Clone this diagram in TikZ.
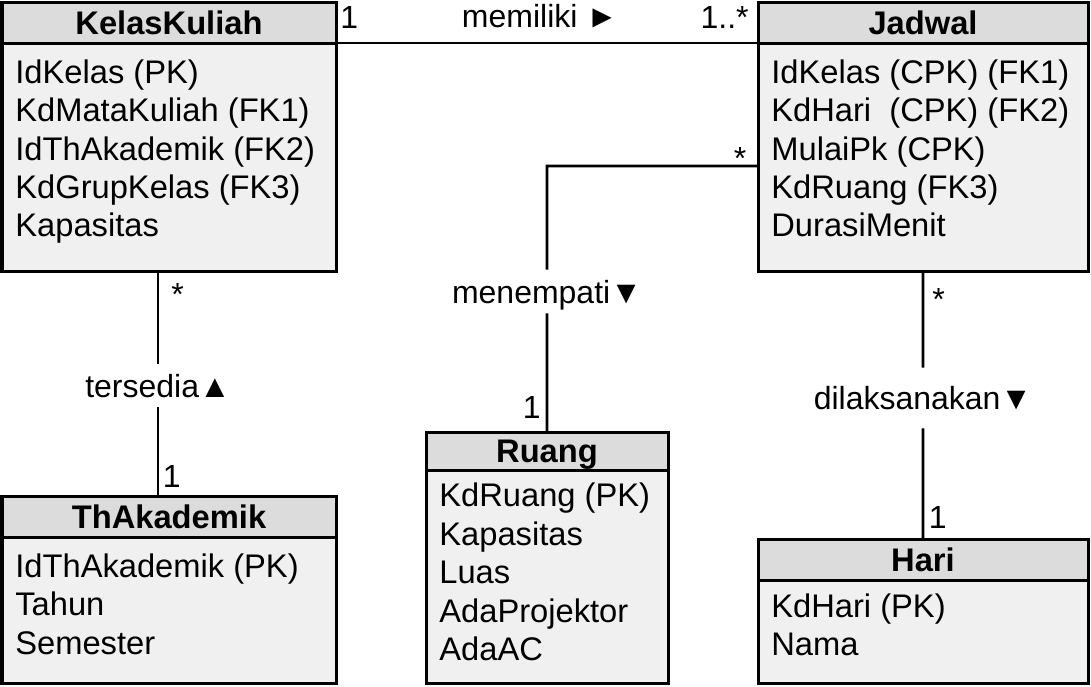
\documentclass[tikz,border=0pt]{standalone}
\usepackage{fontspec}
\setmainfont{Liberation Sans}
\usetikzlibrary{positioning}
\definecolor{headgray}{RGB}{220,220,220}
\definecolor{bodygray}{RGB}{240,240,240}
\tikzset{
  tbl/.style={draw, line width=0.6mm, fill=bodygray, inner sep=0pt, outer sep=0pt, anchor=north west},
  tblhead/.style={draw, line width=0.6mm, fill=headgray, inner sep=0pt, outer sep=0pt, anchor=north west,
    minimum height=8.2mm, text height=13.3pt, text depth=0pt, font=\bfseries\fontsize{18.6}{22}\selectfont},
  attr/.style={align=left, inner sep=0pt, font=\fontsize{18.6}{21.9}\selectfont},
  rel/.style={inner xsep=2pt, inner ysep=2mm, text height=4.6mm, text depth=0pt, font=\fontsize{18.2}{21}\selectfont},
  mult/.style={inner sep=0pt, font=\fontsize{18.2}{21}\selectfont},
  conn/.style={line width=0.55mm}
}
\begin{document}
\begin{tikzpicture}[x=0.2mm,y=-0.2mm]
\useasboundingbox (0,0) rectangle (1091,686);
% KelasKuliah
\node[tbl, minimum width=66.8mm, minimum height=53.8mm] (kk) at (2,2) {};
\node[tblhead, minimum width=66.8mm] (kkh) at (kk.north west) {KelasKuliah};
\node[attr, below right=3.2mm and 2.6mm of kkh.south west] (kka)
  {IdKelas (PK)\\KdMataKuliah (FK1)\\IdThAkademik (FK2)\\KdGrupKelas (FK3)\\Kapasitas};
% Jadwal
\node[tbl, minimum width=66mm, minimum height=53.8mm] (jd) at (758,2) {};
\node[tblhead, minimum width=66mm] (jdh) at (jd.north west) {Jadwal};
\node[attr, below right=3.2mm and 2.6mm of jdh.south west] (jda)
  {IdKelas (CPK) (FK1)\\KdHari\ \ (CPK) (FK2)\\MulaiPk (CPK)\\KdRuang (FK3)\\DurasiMenit};
% ThAkademik
\node[tbl, minimum width=66.8mm, minimum height=37.4mm] (th) at (2,496) {};
\node[tblhead, minimum width=66.8mm] (thh) at (th.north west) {ThAkademik};
\node[attr, below right=3.2mm and 2.6mm of thh.south west] (tha)
  {IdThAkademik (PK)\\Tahun\\Semester};
% Ruang
\node[tbl, minimum width=48.4mm, minimum height=50.2mm] (rg) at (426,432) {};
\node[tblhead, minimum width=48.4mm, minimum height=7.6mm] (rgh) at (rg.north west) {Ruang};
\node[attr, below right=2.5mm and 2.6mm of rgh.south west] (rga)
  {KdRuang (PK)\\Kapasitas\\Luas\\AdaProjektor\\AdaAC};
% Hari
\node[tbl, minimum width=66mm, minimum height=28.8mm] (hr) at (758,539) {};
\node[tblhead, minimum width=66mm] (hrh) at (hr.north west) {Hari};
\node[attr, below right=2.6mm and 2.6mm of hrh.south west] (hra)
  {KdHari (PK)\\Nama};
% relation names
\node[rel] (ts) at (158,385.5) {tersedia▲};
\node[rel] (mp) at (547,291.5) {menempati▼};
\node[rel, inner ysep=3.7mm] (dl) at (923,398) {dilaksanakan▼};
\coordinate[below=32.8mm of jd.north west] (jdr);
% connectors
\draw[conn] (kkh.south east) -- (jdh.south west);
\draw[conn] (kk.south -| ts) -- (ts) -- (th.north -| ts);
\draw[conn] (jdr) -| (mp) -- (rg);
\draw[conn] (jd) -- (dl) -- (hr);
% multiplicities
\node[mult, anchor=base west] (m1) at (340,28) {1};
\node[mult, anchor=base] (mm) at (540,27) {memiliki ►};
\node[mult, anchor=base east] (m2) at (749,28) {1..*};
\node[mult, anchor=base] (m3) at (740,169) {*};
\node[mult, anchor=base east] (m4) at (541,418) {1};
\node[mult, anchor=base west] (m5) at (171,305) {*};
\node[mult, anchor=base west] (m6) at (162.5,487) {1};
\node[mult, anchor=base west] (m7) at (932,310) {*};
\node[mult, anchor=base west] (m8) at (928.5,528) {1};
\end{tikzpicture}
\end{document}
